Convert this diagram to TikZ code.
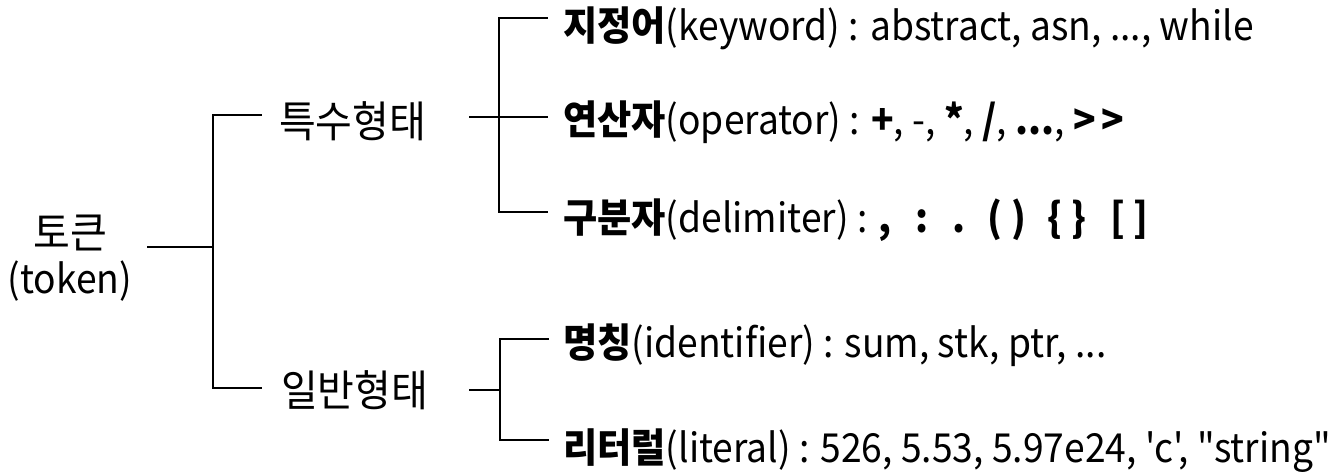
\documentclass[tikz,border=0pt]{standalone}
\usepackage{fontspec}
\setmainfont{Noto Sans CJK KR}[FakeStretch=0.93, Ligatures=TeXOff]
\usetikzlibrary{calc}
\newcommand{\hgbig}{\fontsize{43}{45}\selectfont}
\tikzset{
  lbl/.style={inner sep=0pt, font=\fontsize{40}{45}\selectfont},
  item/.style={lbl, anchor=base west},
  ln/.style={line width=2.7pt, line cap=rect},
}
\begin{document}
\begin{tikzpicture}[x=1pt,y=-1pt]
\useasboundingbox (0,0) rectangle (1335,476);
% texts
\node[lbl, anchor=base, align=center] (tok) at (70,293) {{\hgbig 토큰}\\(token)};
\node[lbl, anchor=base west, font=\hgbig] (sp) at (279,138) {특수형태};
\node[lbl, anchor=base west, font=\hgbig] (gn) at (281,406) {일반형태};
\node[item] (kw) at (563,41) {\textbf{지정어}(keyword) : abstract, asn, ..., while};
\node[item] (op) at (563,135) {\textbf{연산자}(operator) : \textbf{+}, -, \textbf{*}, \textbf{/}, \textbf{...}, \textbf{>\kern5pt>}};
\node[item] (dl) at (563,232) {\textbf{구분자}(delimiter) : \textbf{,\hspace{24pt}:\hspace{24pt}.\hspace{22pt}( )\hspace{22pt}\{ \}\hspace{24pt}[ ]}};
\node[item] (id) at (563,357) {\textbf{명칭}(identifier) : sum, stk, ptr, ...};
\node[item] (lt) at (563,462) {\textbf{리터럴}(literal) : 526, 5.53, 5.97e24, 'c', "string"};
% junction coordinates
\coordinate (t0) at (148,247);
\coordinate (j0) at (213,247);
\coordinate (m1) at (213,115);
\coordinate (m2) at (213,388);
\coordinate (a1) at (261,115);
\coordinate (a2) at (261,388);
\coordinate (s0) at (470,117);
\coordinate (k0) at (499,18);
\coordinate (k2) at (499,212);
\coordinate (kb0) at (547,18);
\coordinate (kb1) at (547,117);
\coordinate (kb2) at (547,212);
\coordinate (g0) at (470,390);
\coordinate (g1) at (500,390);
\coordinate (h0) at (500,339);
\coordinate (h2) at (500,440);
\coordinate (hb0) at (548,339);
\coordinate (hb2) at (548,440);
% connectors
\draw[ln] (t0) -- (j0);
\draw[ln] (a1) -- (m1) -- (m2) -- (a2);
\draw[ln] (kb0) -- (k0) -- (k2) -- (kb2);
\draw[ln] (s0) -- (kb1);
\draw[ln] (hb0) -- (h0) -- (h2) -- (hb2);
\draw[ln] (g0) -- (g1);
\end{tikzpicture}
\end{document}
